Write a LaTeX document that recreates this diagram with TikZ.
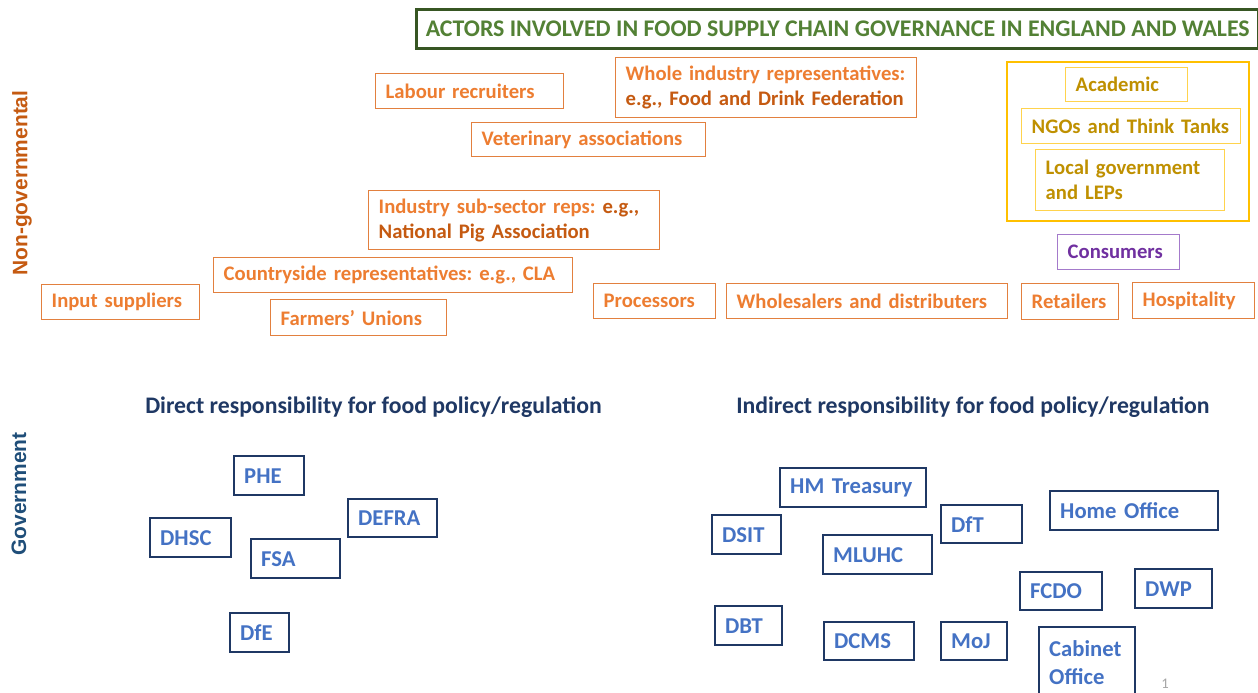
\documentclass[tikz,border=0pt]{standalone}
\usepackage{fontspec}
\setmainfont{Carlito}
\newfontfamily\arialfont{Liberation Sans}
\definecolor{orangeT}{HTML}{ED7D31}
\definecolor{orangeD}{HTML}{C55A11}
\definecolor{orangeB}{HTML}{E2803F}
\definecolor{goldB}{HTML}{FFC000}
\definecolor{goldT}{HTML}{BF9000}
\definecolor{goldIn}{HTML}{FFD34D}
\definecolor{purT}{HTML}{7030A0}
\definecolor{purB}{HTML}{A47ACB}
\definecolor{blueT}{HTML}{4472C4}
\definecolor{navyB}{HTML}{1F3864}
\definecolor{headC}{HTML}{1F3864}
\definecolor{govL}{HTML}{1F4E79}
\definecolor{titleT}{HTML}{538135}
\definecolor{titleB}{HTML}{375623}
\frenchspacing
\begin{document}
\begin{tikzpicture}[x=0.75pt,y=-0.75pt,
  base/.style={anchor=north west, inner xsep=7.5pt, inner ysep=0pt, align=left,
    font=\bfseries\fontsize{15.5}{18.75}\selectfont},
  wh/.style 2 args={minimum width=#1*0.75pt, minimum height=#2*0.75pt, text width=#1*0.75pt-15pt},
  obox/.style={base, draw=orangeB, line width=1.1pt, text=orangeT},
  gbox/.style={base, draw=goldIn, line width=1.1pt, text=goldT},
  pbox/.style={base, draw=purB, line width=1.1pt, text=purT},
  vbox/.style={base, draw=navyB, line width=1.8pt, text=blueT,
    font=\bfseries\fontsize{17}{21}\selectfont},
  heading/.style={anchor=west, text=headC, inner sep=0pt, font=\bfseries\fontsize{17.8}{21}\selectfont},
  sidelabel/.style={rotate=90, inner sep=0pt, font=\arialfont\bfseries\fontsize{15.7}{18}\selectfont}
]
\useasboundingbox (0,0) rectangle (1258,693);
\fill[white] (0,0) rectangle (1258,693);

% title
\node[anchor=north west, draw=titleB, line width=2.6pt, text=titleT, inner xsep=0pt, inner ysep=0pt,
  minimum width=842*0.75pt, minimum height=39*0.75pt,
  font=\bfseries\fontsize{17.9}{20}\selectfont] (title) at (415,8)
  {ACTORS INVOLVED IN FOOD SUPPLY CHAIN GOVERNANCE IN ENGLAND AND WALES};

% side labels
\node[sidelabel, text=orangeD] (ngov) at (22,183) {Non-governmental};
\node[sidelabel, text=govL] (gov) at (19,494) {Government};

% non-governmental actors
\node[obox, wh={188}{35}] (labour) at (375,73) {Labour recruiters};
\node[obox, wh={301}{60}] (whole) at (615,57) {Whole industry representatives:\\{\color{orangeD}e.g., Food and Drink Federation}};
\node[obox, wh={234}{34}] (vet) at (471,122) {Veterinary associations};
\node[obox, wh={291}{59}] (subsector) at (368,190) {Industry sub-sector reps: {\color{orangeD}e.g.,}\\{\color{orangeD}National Pig Association}};
\node[obox, wh={359}{35}] (country) at (213,257) {Countryside representatives: e.g., CLA};
\node[obox, wh={158}{35}] (input) at (41,284) {Input suppliers};
\node[obox, wh={176}{36}] (farmers) at (270,299) {Farmers’ Unions};
\node[obox, wh={122}{35}] (proc) at (593,283) {Processors};
\node[obox, wh={281}{35}] (whol) at (726,283) {Wholesalers and distributers};
\node[obox, wh={97}{36}] (retail) at (1021,283) {Retailers};
\node[obox, wh={122}{36}] (hosp) at (1132,282) {Hospitality};
\node[pbox, wh={122}{35}] (cons) at (1057,234) {Consumers};

% gold group
\node[anchor=north west, draw=goldB, line width=1.5pt, inner sep=0pt,
  minimum width=242*0.75pt, minimum height=159*0.75pt] (civil) at (1006,61) {};
\node[gbox, wh={122}{34}] (acad) at (1065,67) {Academic};
\node[gbox, wh={219}{35}] (ngo) at (1021,108) {NGOs and Think Tanks};
\node[gbox, wh={189}{61}] (local) at (1035,149) {Local government\\and LEPs};

% headings
\node[heading] (direct) at (145,407) {Direct responsibility for food policy/regulation};
\node[heading] (indirect) at (736,407) {Indirect responsibility for food policy/regulation};

% direct responsibility
\node[vbox, wh={70}{39}] (phe) at (233,455) {PHE};
\node[vbox, wh={81}{39}] (dhsc) at (149,517) {DHSC};
\node[vbox, wh={89}{39}] (fsa) at (250,538) {FSA};
\node[vbox, wh={89}{38}] (defra) at (347,498) {DEFRA};
\node[vbox, wh={59}{39}] (dfe) at (229,612) {DfE};

% indirect responsibility
\node[vbox, wh={146}{39}] (hmt) at (779,467) {HM Treasury};
\node[vbox, wh={69}{39}] (dsit) at (711,514) {DSIT};
\node[vbox, wh={109}{39}] (mluhc) at (822,534) {MLUHC};
\node[vbox, wh={81}{38}] (dft) at (940,504) {DfT};
\node[vbox, wh={168}{39}] (home) at (1049,490) {Home Office};
\node[vbox, wh={82}{38}] (fcdo) at (1019,571) {FCDO};
\node[vbox, wh={77}{39}] (dwp) at (1134,568) {DWP};
\node[vbox, wh={67}{39}] (dbt) at (714,605) {DBT};
\node[vbox, wh={90}{38}] (dcms) at (823,621) {DCMS};
\node[vbox, wh={66}{38}] (moj) at (940,621) {MoJ};
\node[vbox, wh={96}{70}] (cab) at (1038,626) {Cabinet\\Office};

\node[text=gray!70, font=\fontsize{11}{12}\selectfont, inner sep=0pt] (pnum) at (1165,684) {1};
\end{tikzpicture}
\end{document}
